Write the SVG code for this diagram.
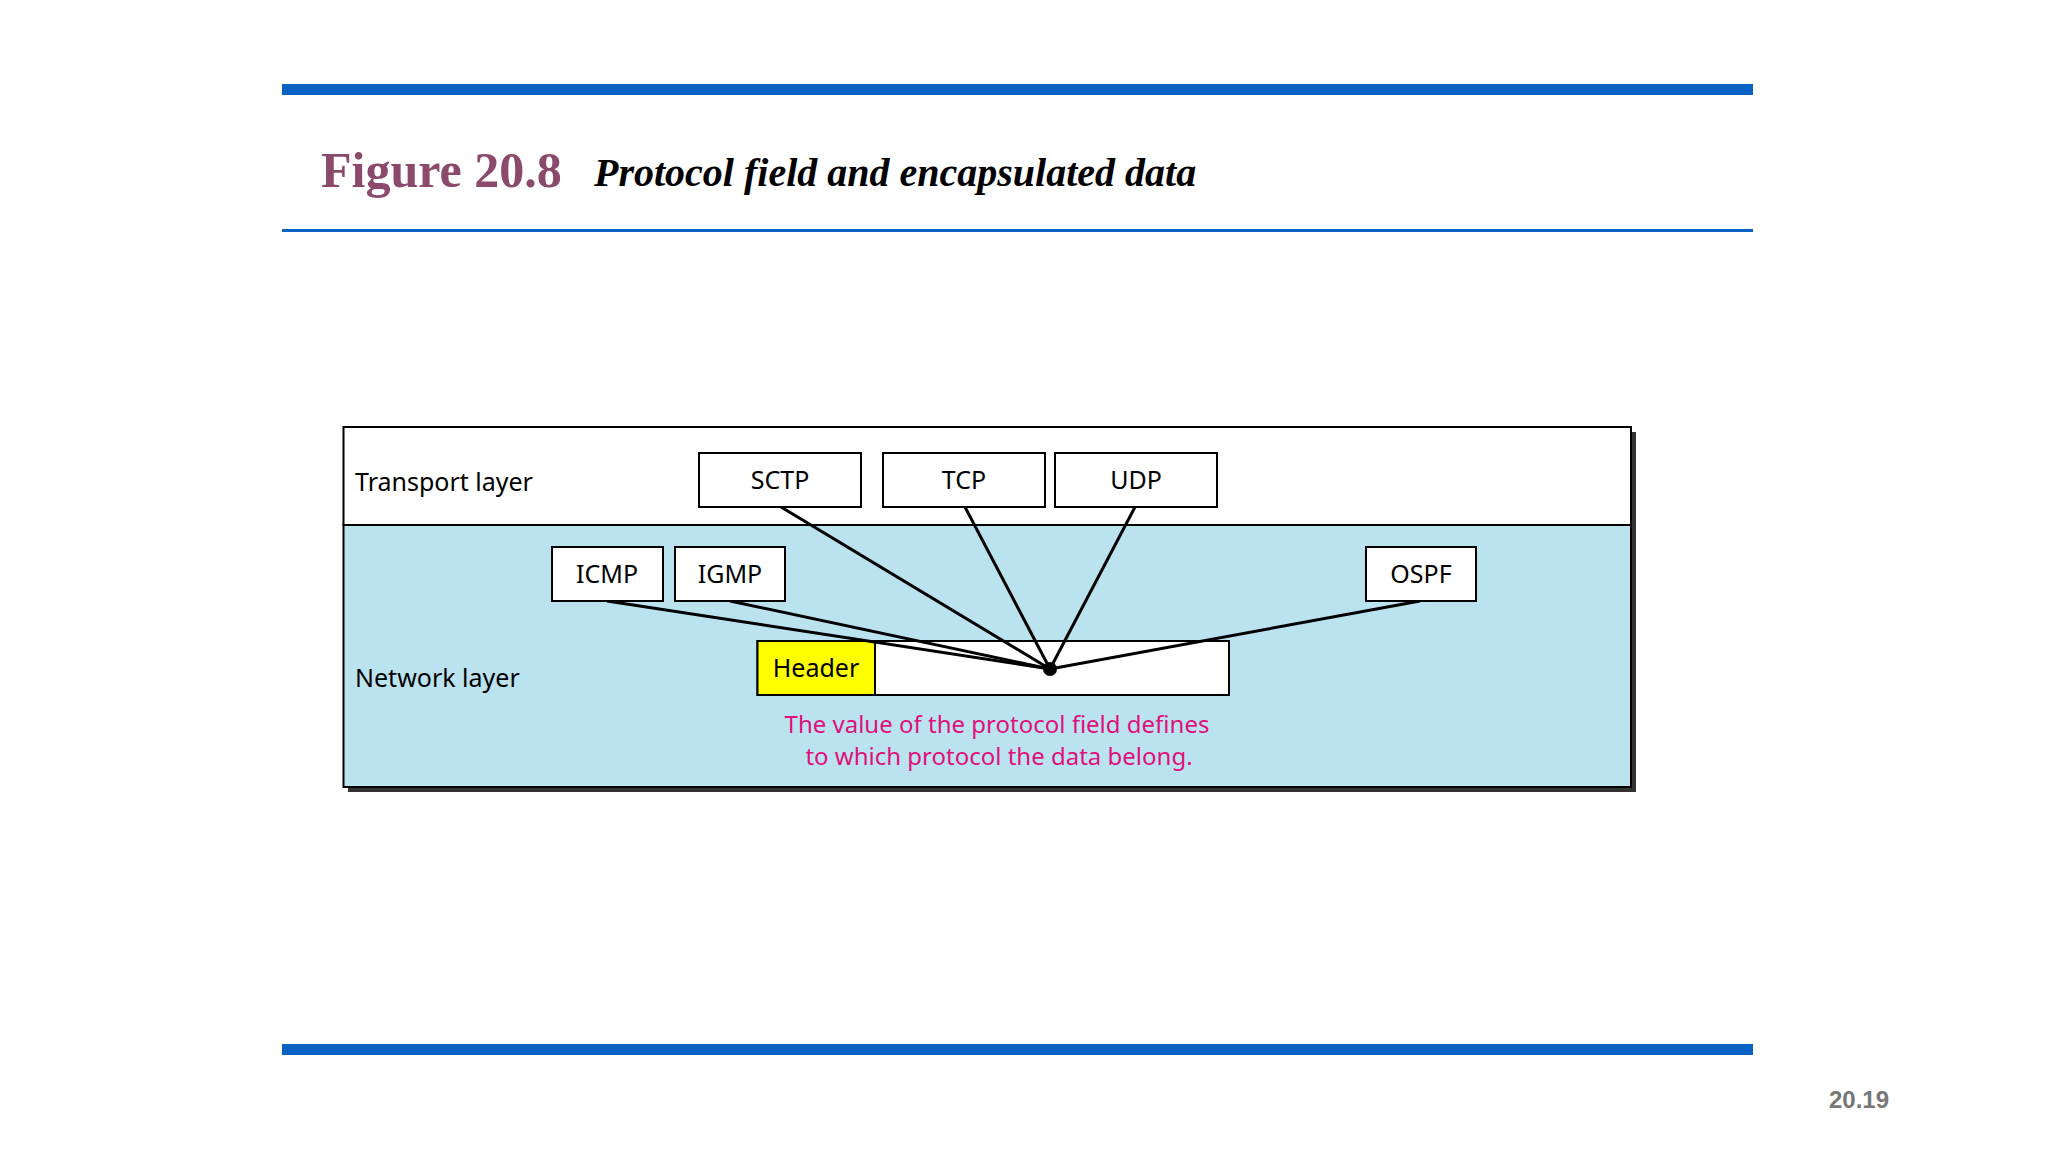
<svg xmlns="http://www.w3.org/2000/svg" width="2048" height="1152" viewBox="0 0 2048 1152">
<style>
.b{fill:#fff;stroke:#000;stroke-width:2}
.t{font-family:"Noto Sans",sans-serif;font-size:25px;fill:#000}
.c{text-anchor:middle}
.p{font-family:"Noto Sans",sans-serif;font-size:24px;fill:#e0107a;text-anchor:middle}
.l{stroke:#000;stroke-width:3;fill:none}
</style>
<rect width="2048" height="1152" fill="#fff"/>
<rect x="282" y="84" width="1471" height="11" fill="#0a62c4"/>
<rect x="282" y="229" width="1471" height="3" fill="#0a62c4"/>
<rect x="282" y="1044" width="1471" height="11" fill="#0a62c4"/>
<text x="321" y="187" font-family="Liberation Serif,serif" font-weight="bold" font-size="50" fill="#8b4a6b">Figure 20.8</text>
<text x="594" y="186" font-family="Liberation Serif,serif" font-weight="bold" font-style="italic" font-size="40" fill="#000">Protocol field and encapsulated data</text>
<text x="1859" y="1108" font-family="Liberation Sans,sans-serif" font-weight="bold" font-size="24" fill="#777" text-anchor="middle">20.19</text>
<g id="frame">
<rect x="348" y="432" width="1288" height="360" fill="#333"/>
<rect x="343.5" y="427" width="1287.5" height="98" fill="#fff" stroke="#000" stroke-width="2"/>
<rect x="343.5" y="525" width="1287.5" height="262" fill="#bae3ef" stroke="#000" stroke-width="2"/>
<text class="t" x="355" y="491">Transport layer</text>
<text class="t" x="355" y="687">Network layer</text>
</g>
<g id="packet">
<rect x="757.5" y="641" width="471.5" height="54" class="b"/>
<rect x="757.5" y="641" width="117.5" height="54" fill="#ffff00" stroke="#000" stroke-width="2"/>
<text class="t c" x="816" y="677">Header</text>
<text class="p" x="997" y="733">The value of the protocol field defines</text>
<text class="p" x="999" y="765">to which protocol the data belong.</text>
</g>
<g id="connectors">
<line class="l" x1="781" y1="507" x2="1050" y2="669"/>
<line class="l" x1="965" y1="507" x2="1050" y2="669"/>
<line class="l" x1="1135" y1="507" x2="1050" y2="669"/>
<line class="l" x1="607" y1="601" x2="1050" y2="669"/>
<line class="l" x1="730" y1="601" x2="1050" y2="669"/>
<line class="l" x1="1420" y1="601" x2="1050" y2="669"/>
<circle cx="1050" cy="669" r="7" fill="#000"/>
</g>
<g id="SCTP"><rect class="b" x="699" y="453" width="162" height="54"/><text class="t c" x="780" y="489">SCTP</text></g>
<g id="TCP"><rect class="b" x="883" y="453" width="162" height="54"/><text class="t c" x="964" y="489">TCP</text></g>
<g id="UDP"><rect class="b" x="1055" y="453" width="162" height="54"/><text class="t c" x="1136" y="489">UDP</text></g>
<g id="ICMP"><rect class="b" x="552" y="547" width="111" height="54"/><text class="t c" x="607" y="583">ICMP</text></g>
<g id="IGMP"><rect class="b" x="675" y="547" width="110" height="54"/><text class="t c" x="730" y="583">IGMP</text></g>
<g id="OSPF"><rect class="b" x="1366" y="547" width="110" height="54"/><text class="t c" x="1421" y="583">OSPF</text></g>
</svg>
